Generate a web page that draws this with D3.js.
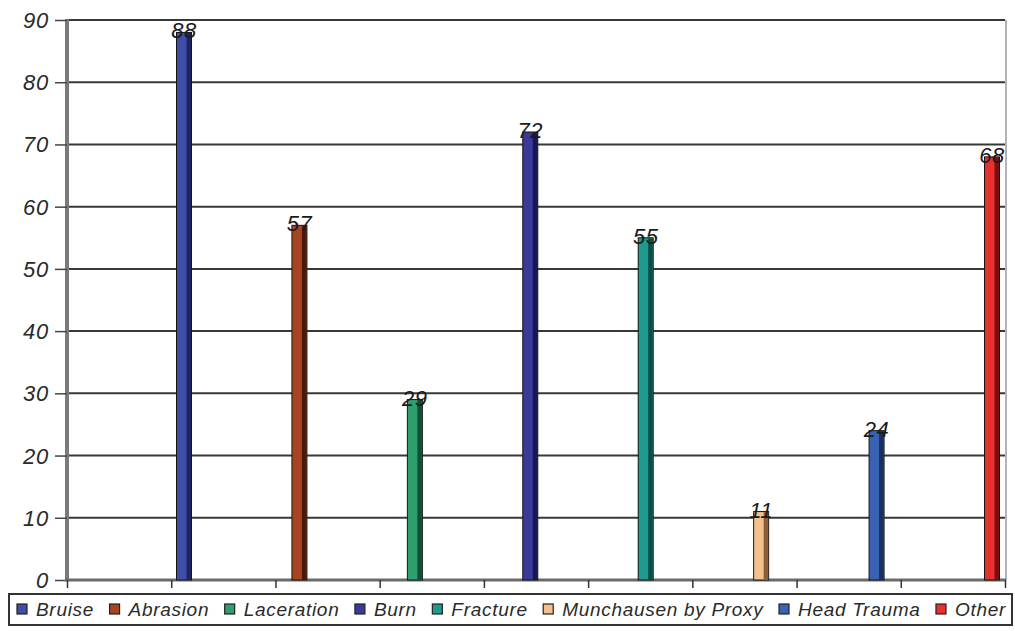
<!DOCTYPE html>
<html><head><meta charset="utf-8">
<script src="https://cdn.jsdelivr.net/npm/d3@7/dist/d3.min.js"></script>
<style>body{margin:0;background:#fff}svg{display:block}</style>
</head><body><svg id="c" width="1015" height="631"></svg>
<script>
const categories = ["Bruise","Abrasion","Laceration","Burn","Fracture","Munchausen by Proxy","Head Trauma","Other"];
const values = [88,57,29,72,55,11,24,68];
const colors = ["#3f4fa8","#a8441f","#2e9e6e","#3a3a98","#1e9a8e","#f4c08e","#3a62b4","#e8312e"];
const sideColors = ["#1d2560","#4a1a0a","#0e5034","#181850","#0a4e46","#8a5e38","#1a2e60","#7a1010"];
const yTicks = [0,10,20,30,40,50,60,70,80,90];

const svg = d3.select("#c");
const L = 67, R = 1005, T = 20, B = 580;
const y = d3.scaleLinear().domain([0,90]).range([B,T]);
const x = d3.scalePoint().domain(categories).range([L+117, R-13]);
const xt = d3.scaleLinear().domain([0,9]).range([L,R]);
const font = "Liberation Sans, Arial, sans-serif";

// gridlines
svg.append("g").selectAll("line").data(yTicks.filter(d=>d>0)).join("line")
  .attr("x1",L).attr("x2",R).attr("y1",d=>y(d)).attr("y2",d=>y(d))
  .attr("stroke","#383838").attr("stroke-width",2);
// right border
svg.append("line").attr("x1",R+1).attr("x2",R+1).attr("y1",T).attr("y2",B).attr("stroke","#9a9a9a").attr("stroke-width",1.5);

// y axis
const ya = d3.axisLeft(y).tickValues(yTicks).tickSize(12).tickPadding(6);
const gy = svg.append("g").attr("transform",`translate(${L},0)`).call(ya);
gy.select(".domain").attr("stroke","#7a7a7a").attr("stroke-width",4).attr("d",`M0,${T-1}V${B}`);
gy.selectAll(".tick line").attr("stroke","#444").attr("stroke-width",1.5);
gy.selectAll(".tick text").attr("font-family",font).attr("font-style","italic")
  .attr("font-size",22).attr("letter-spacing",0.8).attr("fill","#2a2a2a").attr("dy","0.34em");

// x axis
const xa = d3.axisBottom(xt).ticks(9).tickSize(8).tickFormat("");
const gx = svg.append("g").attr("transform",`translate(0,${B})`).call(xa);
gx.select(".domain").attr("stroke","#6a6a6a").attr("stroke-width",3).attr("d",`M${L-2},0H${R+1}`);
gx.selectAll(".tick line").attr("stroke","#333").attr("stroke-width",1.5);

// bars
const bw = 15;
const bars = svg.append("g");
bars.selectAll("rect.f").data(values).join("rect").attr("class","f")
  .attr("x",(d,i)=>x(categories[i])-bw/2).attr("width",bw)
  .attr("y",d=>y(d)).attr("height",d=>B-y(d))
  .attr("fill",(d,i)=>colors[i]).attr("stroke","#151515").attr("stroke-width",1);
bars.selectAll("rect.s").data(values).join("rect").attr("class","s")
  .attr("x",(d,i)=>x(categories[i])+bw/2-5).attr("width",4.5)
  .attr("y",d=>y(d)+0.5).attr("height",d=>B-y(d)-0.5)
  .attr("fill",(d,i)=>sideColors[i]);
bars.selectAll("text").data(values).join("text")
  .attr("x",(d,i)=>x(categories[i])).attr("y",d=>y(d)+6)
  .attr("text-anchor","middle").attr("font-family",font)
  .attr("font-style","italic").attr("font-size",22).attr("letter-spacing",0.5).attr("fill","#1a1a1a").text(d=>d);

// legend
const lx0 = 9, lx1 = 1012, ly0 = 594, ly1 = 625;
svg.append("rect").attr("x",lx0).attr("y",ly0).attr("width",lx1-lx0).attr("height",ly1-ly0)
  .attr("fill","#fff").attr("stroke","#333").attr("stroke-width",2);
const lg = svg.append("g");
const items = lg.selectAll("g").data(categories).join("g");
items.append("rect").attr("width",10).attr("height",10).attr("y",-12)
  .attr("fill",(d,i)=>colors[i]).attr("stroke","#222").attr("stroke-width",1.2);
const texts = items.append("text").attr("x",19).attr("y",0)
  .attr("font-family",font).attr("font-style","italic")
  .attr("font-size",19).attr("letter-spacing",0.7).attr("fill","#2a2a2a").text(d=>d);
const widths = texts.nodes().map(n=>19+n.getComputedTextLength());
const total = d3.sum(widths);
const start = 17, end = 1006;
const gap = (end-start-total)/(categories.length-1);
let cx = start;
items.attr("transform",(d,i)=>{const t=`translate(${cx},${ly0+22})`; cx+=widths[i]+gap; return t;});
</script></body></html>
